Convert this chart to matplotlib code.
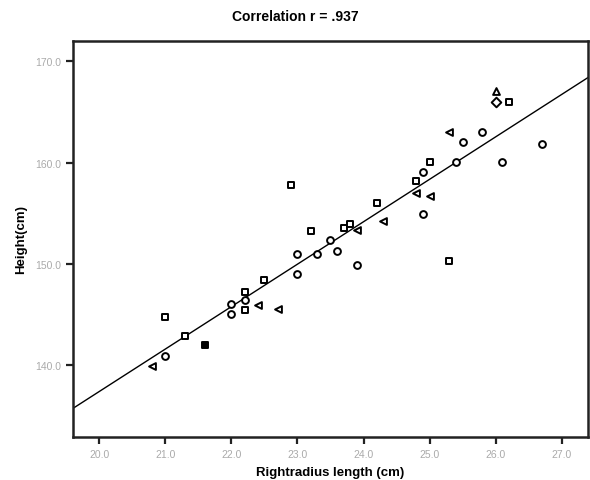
import numpy as np
import matplotlib
matplotlib.use("Agg")
import matplotlib.pyplot as plt

# Datos: longitud del radio derecho (cm) y altura (cm)
radius = [20.8, 21.0, 21.0, 21.3, 21.6, 22.0, 22.0, 22.2, 22.2, 22.2,
          22.4, 22.5, 22.7, 22.9, 23.0, 23.0, 23.2, 23.3, 23.5, 23.6,
          23.7, 23.8, 23.9, 23.9, 24.2, 24.3, 24.8, 24.8, 24.9, 24.9,
          25.0, 25.0, 25.3, 25.3, 25.4, 25.5, 25.8, 26.0, 26.0, 26.1,
          26.2, 26.7]
height = [139.9, 140.9, 144.7, 142.9, 142.0, 146.0, 145.0, 147.2, 146.4, 145.4,
          145.9, 148.4, 145.5, 157.8, 151.0, 149.0, 153.2, 151.0, 152.4, 151.3,
          153.5, 153.9, 153.3, 149.9, 156.0, 154.2, 158.2, 157.0, 159.1, 154.9,
          160.1, 156.7, 163.0, 150.3, 160.1, 162.0, 163.0, 167.1, 166.0, 160.1,
          166.0, 161.8]
# grupo de marcador tal como aparece en la imagen
group = ['tri', 'circ', 'sq', 'sq', 'fill', 'circ', 'circ', 'sq', 'circ', 'sq',
         'tri', 'sq', 'tri', 'sq', 'circ', 'circ', 'sq', 'circ', 'circ', 'circ',
         'sq', 'sq', 'tri', 'circ', 'sq', 'tri', 'sq', 'tri', 'circ', 'circ',
         'sq', 'tri', 'tri', 'sq', 'circ', 'circ', 'circ', 'tri_up', 'diam', 'circ',
         'sq', 'circ']

xticks = [20.0, 21.0, 22.0, 23.0, 24.0, 25.0, 26.0, 27.0]
yticks = [140.0, 150.0, 160.0, 170.0]

styles = {
    'circ': dict(marker='o', facecolors='white'),
    'sq': dict(marker='s', facecolors='white'),
    'tri': dict(marker='<', facecolors='white'),
    'tri_up': dict(marker='^', facecolors='white'),
    'diam': dict(marker='D', facecolors='white'),
    'fill': dict(marker='s', facecolors='black'),
}

plt.rcParams['font.family'] = ['Liberation Sans', 'DejaVu Sans']

fig = plt.figure(figsize=(5.9, 4.81), dpi=100)
ax = fig.add_axes([0.1237, 0.0894, 0.8729, 0.8233])

x = np.array(radius)
y = np.array(height)
g = np.array(group)
for key, st in styles.items():
    m = g == key
    ax.scatter(x[m], y[m], s=24, edgecolors='black', linewidths=1.4,
               zorder=3, **st)

ax.set_xlim(19.6, 27.4)
ax.set_ylim(132.9, 172.0)

# recta de regresión
b, a = np.polyfit(x, y, 1)
xl = np.array(ax.get_xlim())
ax.plot(xl, a + b * xl, color='black', linewidth=1.0, zorder=2)

ax.set_xticks(xticks)
ax.set_yticks(yticks)
ax.set_xticklabels([f'{v:.1f}' for v in xticks])
ax.set_yticklabels([f'{v:.1f}' for v in yticks])
ax.tick_params(direction='out', length=5, width=1.6, labelsize=7.5,
               labelcolor='#aaaaaa', color='#222222')
for sp in ax.spines.values():
    sp.set_linewidth(1.8)
    sp.set_color('#222222')

ax.set_xlabel('Rightradius length (cm)', fontsize=9.5, fontweight='bold',
              labelpad=5)
ax.set_ylabel('Height(cm)', fontsize=9.5, fontweight='bold', labelpad=6)
fig.suptitle('Correlation r = .937', fontsize=10, fontweight='bold', y=0.98)

fig.savefig('out.png', dpi=100)
